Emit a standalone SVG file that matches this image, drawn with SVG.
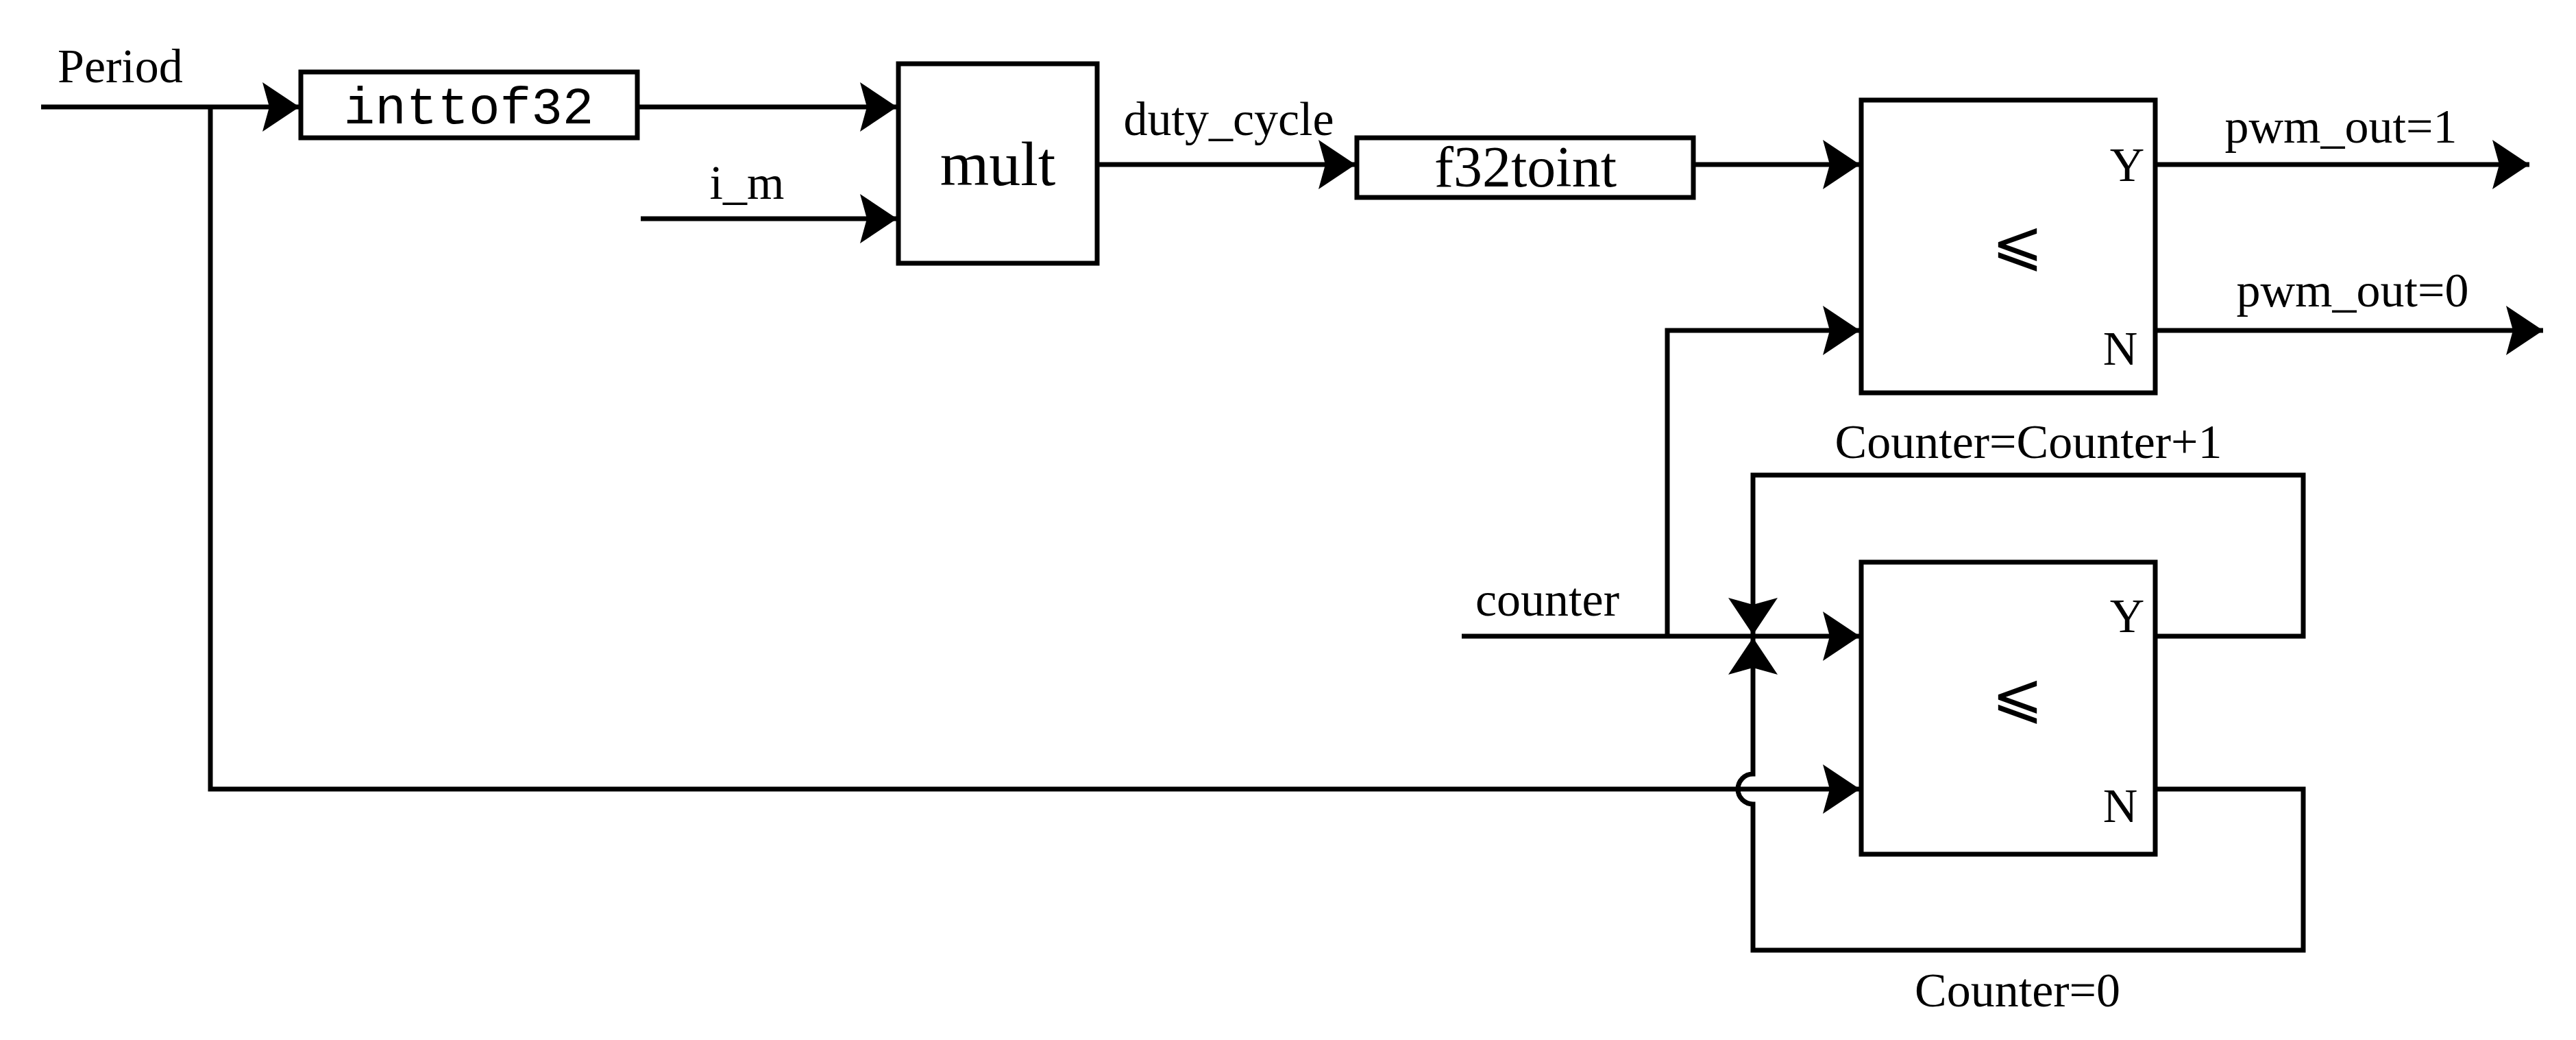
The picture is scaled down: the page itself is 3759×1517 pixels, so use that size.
<svg xmlns="http://www.w3.org/2000/svg" width="3759" height="1517" viewBox="0 0 3759 1517">
<style>
.ln{fill:none;stroke:#000;stroke-width:7}
.bx{fill:#fff;stroke:#000;stroke-width:7}
.t{font-family:"Liberation Serif",serif;font-size:70px;fill:#000}
</style>
<defs>
<marker id="a" markerUnits="userSpaceOnUse" markerWidth="56" markerHeight="76" refX="54" refY="36" orient="auto"><path d="M0,0 L54,36 L0,72 L10,36 Z" fill="#000"/></marker>
</defs>
<rect width="3759" height="1517" fill="#fff"/>
<g id="connectors">
<path class="ln" d="M60,156 H437" marker-end="url(#a)"/>
<path class="ln" d="M307,156 V1151 H2714" marker-end="url(#a)"/>
<path class="ln" d="M930,156 H1309" marker-end="url(#a)"/>
<path class="ln" d="M935,319 H1309" marker-end="url(#a)"/>
<path class="ln" d="M1601,240 H1978" marker-end="url(#a)"/>
<path class="ln" d="M2471,240 H2714" marker-end="url(#a)"/>
<path class="ln" d="M3145,240 H3691" marker-end="url(#a)"/>
<path class="ln" d="M3145,482 H3711" marker-end="url(#a)"/>
<path class="ln" d="M2133,928 H2714" marker-end="url(#a)"/>
<path class="ln" d="M2433,928 V482 H2714" marker-end="url(#a)"/>
<path class="ln" d="M3145,928 H3361 V693 H2558 V926" marker-end="url(#a)"/>
<path class="ln" d="M3145,1151 H3361 V1386 H2558 V1173 A22,22 0 0 1 2558,1129 V930" marker-end="url(#a)"/>
</g>
<g id="period-label"><text class="t" x="84" y="120" font-size="70">Period</text></g>
<g id="inttof32"><rect class="bx" x="439" y="105" width="491" height="96"/><text x="684" y="180" text-anchor="middle" font-family="Liberation Mono,monospace" font-size="76">inttof32</text></g>
<g id="im-label"><text class="t" x="1090" y="290" text-anchor="middle">i_m</text></g>
<g id="mult"><rect class="bx" x="1311" y="93" width="290" height="291"/><text x="1456" y="270" text-anchor="middle" font-family="Liberation Serif,serif" font-size="92">mult</text></g>
<g id="duty-label"><text class="t" x="1793" y="197" text-anchor="middle">duty_cycle</text></g>
<g id="f32toint"><rect class="bx" x="1980" y="201" width="491" height="87"/><text x="2226" y="272" text-anchor="middle" font-family="Liberation Serif,serif" font-size="84">f32toint</text></g>
<g id="cmp1"><rect class="bx" x="2716" y="146" width="429" height="427"/><text x="2944" y="385" text-anchor="middle" font-family="DejaVu Sans,sans-serif" font-size="90">⩽</text><text class="t" x="3104" y="264" text-anchor="middle">Y</text><text class="t" x="3094" y="532" text-anchor="middle">N</text></g>
<g id="pwm1"><text class="t" x="3416" y="208" text-anchor="middle">pwm_out=1</text></g>
<g id="pwm0"><text class="t" x="3433" y="447" text-anchor="middle">pwm_out=0</text></g>
<g id="counter-label"><text class="t" x="2258" y="898" text-anchor="middle">counter</text></g>
<g id="inc-label"><text class="t" x="2960" y="668" text-anchor="middle">Counter=Counter+1</text></g>
<g id="cmp2"><rect class="bx" x="2716" y="820" width="429" height="426"/><text x="2944" y="1045" text-anchor="middle" font-family="DejaVu Sans,sans-serif" font-size="90">⩽</text><text class="t" x="3104" y="922" text-anchor="middle">Y</text><text class="t" x="3094" y="1199" text-anchor="middle">N</text></g>
<g id="reset-label"><text class="t" x="2944" y="1468" text-anchor="middle">Counter=0</text></g>
</svg>
